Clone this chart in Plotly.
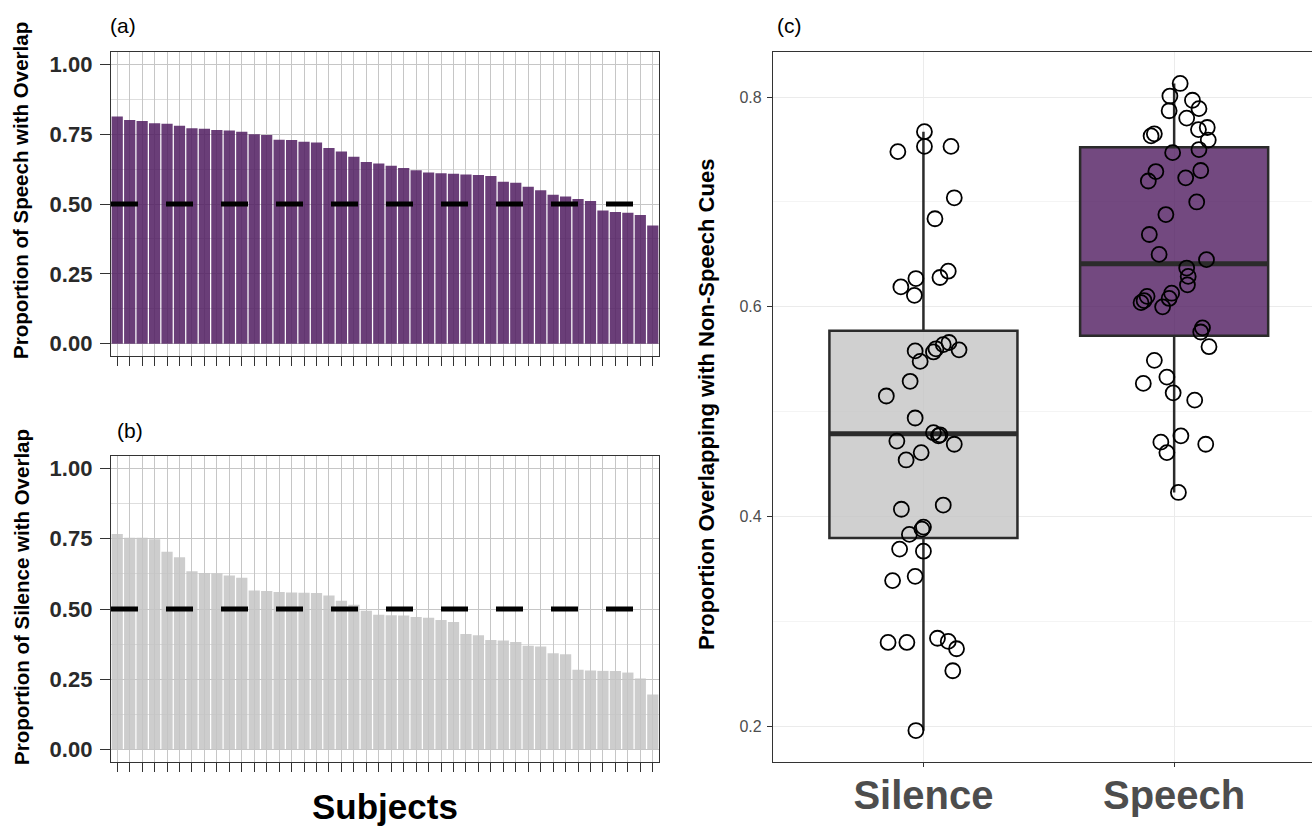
import numpy as np
import plotly.graph_objects as go

# ---------------- data ----------------
conditions = ["Silence", "Speech"]

# proportion of speech-cue trials with overlap, per subject (sorted, panel a)
speech_overlap = [0.813, 0.801, 0.797, 0.789, 0.787, 0.780, 0.771, 0.769, 0.765, 0.763,
                  0.759, 0.750, 0.747, 0.730, 0.729, 0.723, 0.720, 0.700, 0.688, 0.669,
                  0.650, 0.645, 0.637, 0.629, 0.621, 0.613, 0.610, 0.608, 0.606, 0.604,
                  0.600, 0.580, 0.576, 0.562, 0.549, 0.533, 0.527, 0.518, 0.511, 0.477,
                  0.471, 0.469, 0.461, 0.423]
# proportion of silence trials with overlap, per subject (sorted, panel b)
silence_overlap = [0.767, 0.753, 0.753, 0.748, 0.704, 0.684, 0.634, 0.628, 0.627, 0.619,
                   0.611, 0.566, 0.564, 0.560, 0.559, 0.558, 0.557, 0.548, 0.529, 0.515,
                   0.494, 0.480, 0.478, 0.477, 0.472, 0.469, 0.461, 0.454, 0.411, 0.407,
                   0.390, 0.388, 0.383, 0.369, 0.367, 0.343, 0.339, 0.284, 0.281, 0.280,
                   0.280, 0.274, 0.253, 0.196]
# horizontal jitter of the points in panel c (category units), same order as above
speech_jitter = [0.024, -0.017, 0.073, 0.099, -0.020, 0.050, 0.132, 0.097, -0.079, -0.092,
                 0.136, 0.099, -0.006, 0.106, -0.073, 0.046, -0.103, 0.090, -0.033, -0.099,
                 -0.060, 0.129, 0.050, 0.056, 0.053, -0.010, -0.108, -0.020, -0.120, -0.132,
                 -0.046, 0.113, 0.106, 0.139, -0.079, -0.029, -0.123, -0.004, 0.082, 0.027,
                 -0.053, 0.126, -0.029, 0.017]
silence_jitter = [0.004, 0.110, 0.004, -0.102, 0.123, 0.046, 0.099, 0.066, -0.030, -0.090,
                  -0.036, 0.102, 0.079, 0.050, 0.142, -0.033, 0.040, -0.013, -0.053, -0.148,
                  -0.033, 0.040, 0.066, 0.060, -0.106, 0.123, -0.009, -0.069, 0.079, -0.088,
                  0.000, -0.006, -0.056, -0.095, 0.000, -0.033, -0.123, 0.056, 0.099, -0.141,
                  -0.066, 0.132, 0.117, -0.030]

chance_level = 0.5
ab_ticks = [0.0, 0.25, 0.5, 0.75, 1.0]
ab_minor = [0.125, 0.375, 0.625, 0.875]
c_ticks = [0.2, 0.4, 0.6, 0.8]
c_minor = [0.3, 0.5, 0.7]

# ---------------- styling ----------------
W, H = 1312, 826
PURPLE_BAR = "rgba(80,28,96,0.85)"
GREY_BAR = "rgba(196,196,196,0.85)"
PURPLE_BOX = "rgba(80,28,96,0.80)"
GREY_BOX = "rgba(196,196,196,0.80)"
FONT = "Liberation Sans, Arial, sans-serif"


def px_x(p):
    return p / W


def px_y(p):
    return 1 - p / H


subjects = list(range(1, len(speech_overlap) + 1))

fig = go.Figure()

# panel a bars
fig.add_trace(go.Bar(x=subjects, y=speech_overlap, marker=dict(color=PURPLE_BAR, line=dict(width=0)),
                     xaxis="x", yaxis="y", showlegend=False))
fig.add_trace(go.Scatter(x=[0.5, len(subjects) + 0.5], y=[chance_level, chance_level], mode="lines",
                         line=dict(color="black", width=5, dash="27px,28px"),
                         xaxis="x", yaxis="y", showlegend=False))
# panel b bars
fig.add_trace(go.Bar(x=subjects, y=silence_overlap, marker=dict(color=GREY_BAR, line=dict(width=0)),
                     xaxis="x2", yaxis="y2", showlegend=False))
fig.add_trace(go.Scatter(x=[0.5, len(subjects) + 0.5], y=[chance_level, chance_level], mode="lines",
                         line=dict(color="black", width=5, dash="27px,28px"),
                         xaxis="x2", yaxis="y2", showlegend=False))

# panel c boxes
box_width = 0.75
for i, (vals, jit, fill) in enumerate([(silence_overlap, silence_jitter, GREY_BOX),
                                       (speech_overlap, speech_jitter, PURPLE_BOX)]):
    arr = np.array(vals)
    q1, med, q3 = np.percentile(arr, [25, 50, 75])
    iqr = q3 - q1
    lo = arr[arr >= q1 - 1.5 * iqr].min()
    hi = arr[arr <= q3 + 1.5 * iqr].max()
    fig.add_trace(go.Box(x=[i], q1=[q1], median=[med], q3=[q3], lowerfence=[lo], upperfence=[hi],
                         width=box_width, fillcolor=fill, line=dict(color="#2b2b2b", width=2.5),
                         whiskerwidth=0, boxpoints=False, xaxis="x3", yaxis="y3", showlegend=False,
                         hoverinfo="skip"))
    fig.add_trace(go.Scatter(x=[i - box_width / 2, i + box_width / 2], y=[med, med], mode="lines",
                             line=dict(color="#2b2b2b", width=5), xaxis="x3", yaxis="y3",
                             showlegend=False, hoverinfo="skip"))
    fig.add_trace(go.Scatter(x=[i + j for j in jit], y=vals, mode="markers",
                             marker=dict(symbol="circle-open", size=15, color="black",
                                         line=dict(width=1.8)),
                             xaxis="x3", yaxis="y3", showlegend=False))

grid_major = "#c6c6c6"
grid_minor = "#dedede"

ab_x = dict(range=[0.5, len(subjects) + 0.5], tickmode="array", tickvals=subjects,
            showticklabels=False, ticks="outside", ticklen=9, tickwidth=1.4, tickcolor="#333",
            showgrid=True, gridcolor=grid_major, gridwidth=1, zeroline=False,
            showline=True, linecolor="#333", linewidth=1.4, mirror=True)
ab_y = dict(range=[-0.044, 1.044], tickmode="array", tickvals=ab_ticks,
            ticktext=["<b>%.2f</b>" % t for t in ab_ticks], tickfont=dict(size=22, color="#2a2a2a", family=FONT),
            ticks="outside", ticklen=10, tickwidth=1.4, tickcolor="#333", ticklabelstandoff=3,
            showgrid=True, gridcolor=grid_major, gridwidth=1, zeroline=False,
            minor=dict(tickvals=ab_minor, showgrid=True, gridcolor=grid_minor, gridwidth=1, ticks=""),
            showline=True, linecolor="#333", linewidth=1.4, mirror=True)

fig.update_layout(
    width=W, height=H, margin=dict(l=0, r=0, t=0, b=0),
    paper_bgcolor="white", plot_bgcolor="white", bargap=0.1,
    font=dict(family=FONT, color="black"),
    xaxis=dict(domain=[px_x(111), px_x(659)], anchor="y", **ab_x),
    yaxis=dict(domain=[px_y(356), px_y(52)], anchor="x", **ab_y),
    xaxis2=dict(domain=[px_x(111), px_x(659)], anchor="y2", **ab_x),
    yaxis2=dict(domain=[px_y(762), px_y(456)], anchor="x2", **ab_y),
    xaxis3=dict(domain=[px_x(773), 1.0], anchor="y3", range=[-0.6, (1312 - 923) / 251.0],
                tickmode="array", tickvals=list(range(len(conditions))),
                ticktext=["<b>%s</b>" % c for c in conditions],
                tickfont=dict(size=40, color="#4d4d4d", family=FONT),
                ticks="outside", ticklen=4, tickcolor="#333", tickwidth=1, ticklabelstandoff=-6,
                showgrid=True, gridcolor="#ebebeb", gridwidth=1.2, zeroline=False,
                showline=True, linecolor="#333", linewidth=1.2, mirror=True),
    yaxis3=dict(domain=[px_y(762), px_y(52)], anchor="x3", range=[0.166, 0.843],
                tickmode="array", tickvals=c_ticks, ticktext=["%.1f" % t for t in c_ticks],
                tickfont=dict(size=16, color="#4d4d4d", family=FONT),
                ticks="outside", ticklen=5, tickcolor="#333", tickwidth=1, ticklabelstandoff=2,
                showgrid=True, gridcolor="#ebebeb", gridwidth=1.2, zeroline=False,
                minor=dict(tickvals=c_minor, showgrid=True, gridcolor="#f4f4f4", gridwidth=1, ticks=""),
                showline=True, linecolor="#333", linewidth=1.2, mirror=True),
    annotations=[
        dict(text="(a)", x=px_x(108), y=px_y(26), xref="paper", yref="paper", xanchor="left",
             yanchor="middle", showarrow=False, font=dict(size=21, color="black")),
        dict(text="(b)", x=px_x(115), y=px_y(430), xref="paper", yref="paper", xanchor="left",
             yanchor="middle", showarrow=False, font=dict(size=21, color="black")),
        dict(text="(c)", x=px_x(775), y=px_y(26), xref="paper", yref="paper", xanchor="left",
             yanchor="middle", showarrow=False, font=dict(size=21, color="black")),
        dict(text="<b>Proportion of Speech with Overlap</b>", x=px_x(21), y=px_y(191),
             xref="paper", yref="paper", xanchor="center", yanchor="middle", textangle=-90,
             showarrow=False, font=dict(size=20.5, color="black")),
        dict(text="<b>Proportion of Silence with Overlap</b>", x=px_x(21), y=px_y(597),
             xref="paper", yref="paper", xanchor="center", yanchor="middle", textangle=-90,
             showarrow=False, font=dict(size=20.5, color="black")),
        dict(text="<b>Proportion Overlapping with Non-Speech Cues</b>", x=px_x(706), y=px_y(405),
             xref="paper", yref="paper", xanchor="center", yanchor="middle", textangle=-90,
             showarrow=False, font=dict(size=22, color="black")),
        dict(text="<b>Subjects</b>", x=px_x(385), y=px_y(806), xref="paper", yref="paper",
             xanchor="center", yanchor="middle",
             showarrow=False, font=dict(size=35, color="black")),
    ],
)

fig.write_html("out.html", config={"displayModeBar": False},
               post_script="document.body.style.margin='0px';document.body.style.padding='0px';")
